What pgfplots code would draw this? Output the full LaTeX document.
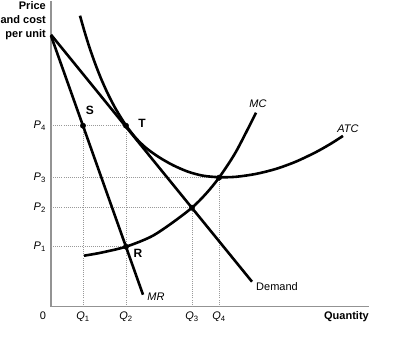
\documentclass[border=0pt]{standalone}
\usepackage{fontspec}
\setmainfont{Liberation Sans}
\usepackage{pgfplots}
\pgfplotsset{compat=1.18}
\begin{document}
\begin{tikzpicture}
\begin{axis}[
  at={(0pt,0pt)}, anchor=origin,
  x=1pt, y=1pt, xmin=0, xmax=318, ymin=0, ymax=306,
  axis lines=left,
  axis line style={-, draw=gray!85, line width=1.4pt},
  xtick=\empty, ytick=\empty, clip=false,
  every axis plot/.append style={line cap=butt},
]
% dotted guide lines
\pgfplotsset{guide/.style={draw=gray!80, line width=0.7pt, dash pattern=on 0.8pt off 1.3pt}}
\addplot[guide] coordinates {(0,181) (75,181)};
\addplot[guide] coordinates {(32,0) (32,181)};
\addplot[guide] coordinates {(75,0) (75,181)};
\addplot[guide] coordinates {(0,129) (168,129)};
\addplot[guide] coordinates {(168,0) (168,129)};
\addplot[guide] coordinates {(0,99) (141,99)};
\addplot[guide] coordinates {(141,0) (141,99)};
\addplot[guide] coordinates {(0,60) (75,60)};
% Demand
\addplot[black, line width=2.6pt] coordinates {(0,272) (201,25)};
% MR
\addplot[black, line width=2.6pt] coordinates {(0,271) (92,12)};
% MC
\addplot[black, line width=2.6pt, smooth] coordinates {(33,51) (50,54) (75,60) (100,70) (120,83) (141,99) (155,113) (168,129) (185,155) (205,194)};
% ATC
\addplot[black, line width=2.6pt, smooth] coordinates {(29,291) (33,276.9) (38,260.7) (44,243.5) (50,228.2) (57,212.6) (65,197.3) (75,181.3) (85,168.5) (95,158.8) (108,149.5) (122,141.5) (137,135) (152,131) (168,129.5) (185,129.9) (205,132.8) (225,137.8) (245,145.1) (265,154.6) (280,163.1) (292,170.8)};
% points
\addplot[only marks, mark=*, mark size=2.7pt, black] coordinates {(32,181) (75,181) (75,60) (141,99) (168,129)};
% labels
\node[font=\bfseries\fontsize{11}{14}\selectfont, align=right, anchor=north east, inner sep=0pt] at (axis cs:-5,305) {Price\\and cost\\per unit};
\node[font=\bfseries\fontsize{11}{13}\selectfont, anchor=base east, inner sep=0pt] at (axis cs:318,-13) {Quantity};
\node[font=\fontsize{11}{13}\selectfont, anchor=base, inner sep=0pt] at (axis cs:-8,-13) {0};
\node[font=\fontsize{11}{13}\selectfont, anchor=base, inner sep=0pt] at (axis cs:32,-13) {\textit{Q}\textsubscript{1}};
\node[font=\fontsize{11}{13}\selectfont, anchor=base, inner sep=0pt] at (axis cs:75,-13) {\textit{Q}\textsubscript{2}};
\node[font=\fontsize{11}{13}\selectfont, anchor=base, inner sep=0pt] at (axis cs:141,-13) {\textit{Q}\textsubscript{3}};
\node[font=\fontsize{11}{13}\selectfont, anchor=base, inner sep=0pt] at (axis cs:168,-13) {\textit{Q}\textsubscript{4}};
\node[font=\fontsize{11}{13}\selectfont, anchor=east, inner sep=0pt] at (axis cs:-5,181) {\textit{P}\textsubscript{4}};
\node[font=\fontsize{11}{13}\selectfont, anchor=east, inner sep=0pt] at (axis cs:-5,129) {\textit{P}\textsubscript{3}};
\node[font=\fontsize{11}{13}\selectfont, anchor=east, inner sep=0pt] at (axis cs:-5,99) {\textit{P}\textsubscript{2}};
\node[font=\fontsize{11}{13}\selectfont, anchor=east, inner sep=0pt] at (axis cs:-5,60) {\textit{P}\textsubscript{1}};
\node[font=\itshape\fontsize{11}{13}\selectfont, inner sep=0pt] at (axis cs:207,203) {MC};
\node[font=\itshape\fontsize{11}{13}\selectfont, inner sep=0pt] at (axis cs:297,178) {ATC};
\node[font=\itshape\fontsize{11}{13}\selectfont, inner sep=0pt] at (axis cs:105,10) {MR};
\node[font=\fontsize{11}{13}\selectfont, inner sep=0pt] at (axis cs:226,20) {Demand};
\node[font=\bfseries\fontsize{12}{14}\selectfont, inner sep=0pt] at (axis cs:39,196) {S};
\node[font=\bfseries\fontsize{12}{14}\selectfont, inner sep=0pt] at (axis cs:91,183) {T};
\node[font=\bfseries\fontsize{12}{14}\selectfont, inner sep=0pt] at (axis cs:87,53) {R};
\end{axis}
\path[use as bounding box] (-51pt,-48pt) rectangle (349pt,306pt);
\end{tikzpicture}
\end{document}
